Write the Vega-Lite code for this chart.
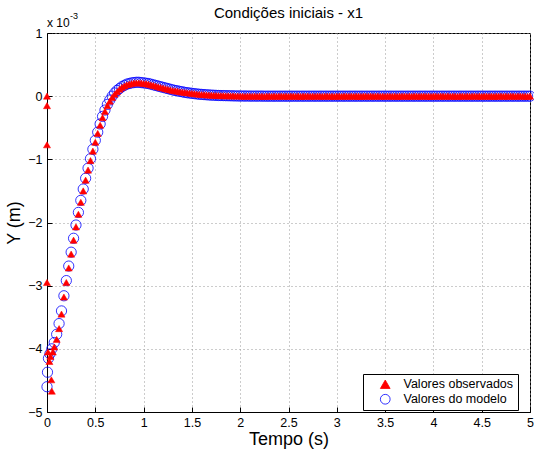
{
  "$schema": "https://vega.github.io/schema/vega-lite/v6.json",
  "width": 483,
  "height": 379,
  "autosize": "none",
  "padding": {"left": 47, "top": 33, "right": 4, "bottom": 43},
  "background": "white",
  "config": {
    "font": "Liberation Sans",
    "view": {"stroke": "black", "strokeWidth": 1},
    "axis": {
      "domainColor": "black",
      "tickColor": "black",
      "labelColor": "black",
      "labelFontSize": 12.5,
      "titleFontSize": 18,
      "titleFontWeight": "normal",
      "titleColor": "black",
      "gridColor": "#999999",
      "gridDash": [1, 3],
      "gridWidth": 1,
      "tickSize": -5
    }
  },
  "title": {"text": "Condições iniciais - x1", "fontSize": 15, "fontWeight": "normal", "color": "black", "offset": 6, "dy": 15},
  "datasets": {
    "obs": [
      {"t":0,"y":0},{"t":0,"y":-0.15},{"t":0,"y":-0.77},{"t":0,"y":-2.95},
      {"t":0.01,"y":-4.05},{"t":0.025,"y":-4.2},{"t":0.035,"y":-4.12},{"t":0.045,"y":-4.49},{"t":0.05,"y":-4.67},
      {"t":0.06,"y":-4.05},{"t":0.075,"y":-3.97},{"t":0.1,"y":-3.85},{"t":0.125,"y":-3.68},{"t":0.15,"y":-3.45},
      {"t":0.175,"y":-3.18},{"t":0.2,"y":-2.95},{"t":0.225,"y":-2.72},{"t":0.25,"y":-2.5},{"t":0.275,"y":-2.28},
      {"t":0.3,"y":-2.07},{"t":0.325,"y":-1.87},{"t":0.35,"y":-1.68},{"t":0.375,"y":-1.5},{"t":0.4,"y":-1.33},
      {"t":0.425,"y":-1.17},{"t":0.45,"y":-1.02},{"t":0.475,"y":-0.87},{"t":0.5,"y":-0.73},{"t":0.525,"y":-0.59},
      {"t":0.55,"y":-0.46},{"t":0.575,"y":-0.34},{"t":0.6,"y":-0.24},{"t":0.625,"y":-0.15},{"t":0.65,"y":-0.08},
      {"t":0.675,"y":-0.02},{"t":0.7,"y":0.03},{"t":0.725,"y":0.07},{"t":0.75,"y":0.11},{"t":0.775,"y":0.14},
      {"t":0.8,"y":0.16},{"t":0.825,"y":0.18},{"t":0.85,"y":0.19},{"t":0.875,"y":0.2},{"t":0.9,"y":0.21},
      {"t":0.925,"y":0.21},{"t":0.95,"y":0.21},{"t":0.975,"y":0.21},{"t":1.0,"y":0.2},{"t":1.025,"y":0.2},
      {"t":1.05,"y":0.19},{"t":1.075,"y":0.18},{"t":1.1,"y":0.17},{"t":1.125,"y":0.16},{"t":1.15,"y":0.15},
      {"t":1.175,"y":0.14},{"t":1.2,"y":0.13},{"t":1.225,"y":0.12},{"t":1.25,"y":0.11},{"t":1.275,"y":0.1},
      {"t":1.3,"y":0.09},{"t":1.325,"y":0.085},{"t":1.35,"y":0.08},{"t":1.375,"y":0.07},{"t":1.4,"y":0.065},
      {"t":1.425,"y":0.06},{"t":1.45,"y":0.055},{"t":1.475,"y":0.05},{"t":1.5,"y":0.045},{"t":1.525,"y":0.04},
      {"t":1.55,"y":0.035},{"t":1.575,"y":0.03},{"t":1.6,"y":0.027},{"t":1.625,"y":0.024},{"t":1.65,"y":0.021},
      {"t":1.675,"y":0.018},{"t":1.7,"y":0.016},{"t":1.725,"y":0.014},{"t":1.75,"y":0.012},{"t":1.775,"y":0.01},
      {"t":1.8,"y":0.009},{"t":1.825,"y":0.008},{"t":1.85,"y":0.007},{"t":1.875,"y":0.006},{"t":1.9,"y":0.005},
      {"t":1.925,"y":0.004},{"t":1.95,"y":0.003},{"t":1.975,"y":0.002},{"t":2.0,"y":0.002},
      {"t":2.025,"y":0.001},{"t":2.05,"y":-0.002},{"t":2.075,"y":0.002},{"t":2.1,"y":0},{"t":2.125,"y":-0.001},
      {"t":2.15,"y":0.003},{"t":2.175,"y":-0.002},{"t":2.2,"y":0.001},{"t":2.225,"y":0},{"t":2.25,"y":-0.003},
      {"t":2.275,"y":0.002},{"t":2.3,"y":0.001},{"t":2.325,"y":-0.001},{"t":2.35,"y":0.002},{"t":2.375,"y":-0.002},
      {"t":2.4,"y":0},{"t":2.425,"y":0.003},{"t":2.45,"y":-0.001},{"t":2.475,"y":0.001},{"t":2.5,"y":-0.002},
      {"t":2.525,"y":0.002},{"t":2.55,"y":0},{"t":2.575,"y":-0.001},{"t":2.6,"y":0.002},{"t":2.625,"y":-0.003},
      {"t":2.65,"y":0.001},{"t":2.675,"y":0},{"t":2.7,"y":0.002},{"t":2.725,"y":-0.002},{"t":2.75,"y":0.001},
      {"t":2.775,"y":-0.001},{"t":2.8,"y":0.003},{"t":2.825,"y":0},{"t":2.85,"y":-0.002},{"t":2.875,"y":0.001},
      {"t":2.9,"y":0.002},{"t":2.925,"y":-0.001},{"t":2.95,"y":0},{"t":2.975,"y":-0.003},{"t":3.0,"y":0.002},
      {"t":3.025,"y":0.001},{"t":3.05,"y":-0.002},{"t":3.075,"y":0.002},{"t":3.1,"y":0},{"t":3.125,"y":-0.001},
      {"t":3.15,"y":0.003},{"t":3.175,"y":-0.002},{"t":3.2,"y":0.001},{"t":3.225,"y":0},{"t":3.25,"y":-0.003},
      {"t":3.275,"y":0.002},{"t":3.3,"y":0.001},{"t":3.325,"y":-0.001},{"t":3.35,"y":0.002},{"t":3.375,"y":-0.002},
      {"t":3.4,"y":0},{"t":3.425,"y":0.003},{"t":3.45,"y":-0.001},{"t":3.475,"y":0.001},{"t":3.5,"y":-0.002},
      {"t":3.525,"y":0.002},{"t":3.55,"y":0},{"t":3.575,"y":-0.001},{"t":3.6,"y":0.002},{"t":3.625,"y":-0.003},
      {"t":3.65,"y":0.001},{"t":3.675,"y":0},{"t":3.7,"y":0.002},{"t":3.725,"y":-0.002},{"t":3.75,"y":0.001},
      {"t":3.775,"y":-0.001},{"t":3.8,"y":0.003},{"t":3.825,"y":0},{"t":3.85,"y":-0.002},{"t":3.875,"y":0.001},
      {"t":3.9,"y":0.002},{"t":3.925,"y":-0.001},{"t":3.95,"y":0},{"t":3.975,"y":-0.003},{"t":4.0,"y":0.002},
      {"t":4.025,"y":0.001},{"t":4.05,"y":-0.002},{"t":4.075,"y":0.002},{"t":4.1,"y":0},{"t":4.125,"y":-0.001},
      {"t":4.15,"y":0.003},{"t":4.175,"y":-0.002},{"t":4.2,"y":0.001},{"t":4.225,"y":0},{"t":4.25,"y":-0.003},
      {"t":4.275,"y":0.002},{"t":4.3,"y":0.001},{"t":4.325,"y":-0.001},{"t":4.35,"y":0.002},{"t":4.375,"y":-0.002},
      {"t":4.4,"y":0},{"t":4.425,"y":0.003},{"t":4.45,"y":-0.001},{"t":4.475,"y":0.001},{"t":4.5,"y":-0.002},
      {"t":4.525,"y":0.002},{"t":4.55,"y":0},{"t":4.575,"y":-0.001},{"t":4.6,"y":0.002},{"t":4.625,"y":-0.003},
      {"t":4.65,"y":0.001},{"t":4.675,"y":0},{"t":4.7,"y":0.002},{"t":4.725,"y":-0.002},{"t":4.75,"y":0.001},
      {"t":4.775,"y":-0.001},{"t":4.8,"y":0.003},{"t":4.825,"y":0},{"t":4.85,"y":-0.002},{"t":4.875,"y":0.001},
      {"t":4.9,"y":0.002},{"t":4.925,"y":-0.001},{"t":4.95,"y":0},{"t":4.975,"y":-0.003},{"t":5.0,"y":0.001}
    ],
    "mod": [
      {"t":0,"y":-4.6},{"t":0.005,"y":-4.37},{"t":0.015,"y":-4.15},{"t":0.03,"y":-4.08},{"t":0.05,"y":-4.0},
      {"t":0.075,"y":-3.9},{"t":0.1,"y":-3.77},{"t":0.125,"y":-3.6},{"t":0.15,"y":-3.4},{"t":0.175,"y":-3.16},
      {"t":0.2,"y":-2.92},{"t":0.225,"y":-2.69},{"t":0.25,"y":-2.47},{"t":0.275,"y":-2.25},{"t":0.3,"y":-2.04},
      {"t":0.325,"y":-1.84},{"t":0.35,"y":-1.65},{"t":0.375,"y":-1.47},{"t":0.4,"y":-1.3},{"t":0.425,"y":-1.14},
      {"t":0.45,"y":-0.99},{"t":0.475,"y":-0.84},{"t":0.5,"y":-0.7},{"t":0.525,"y":-0.57},{"t":0.55,"y":-0.44},
      {"t":0.575,"y":-0.32},{"t":0.6,"y":-0.22},{"t":0.625,"y":-0.13},{"t":0.65,"y":-0.06},{"t":0.675,"y":0},
      {"t":0.7,"y":0.05},{"t":0.725,"y":0.09},{"t":0.75,"y":0.12},{"t":0.775,"y":0.15},{"t":0.8,"y":0.17},
      {"t":0.825,"y":0.19},{"t":0.85,"y":0.2},{"t":0.875,"y":0.21},{"t":0.9,"y":0.215},{"t":0.925,"y":0.22},
      {"t":0.95,"y":0.22},{"t":0.975,"y":0.215},{"t":1.0,"y":0.21},{"t":1.025,"y":0.205},{"t":1.05,"y":0.2},
      {"t":1.075,"y":0.19},{"t":1.1,"y":0.18},{"t":1.125,"y":0.17},{"t":1.15,"y":0.16},{"t":1.175,"y":0.15},
      {"t":1.2,"y":0.14},{"t":1.225,"y":0.13},{"t":1.25,"y":0.12},{"t":1.275,"y":0.11},{"t":1.3,"y":0.1},
      {"t":1.325,"y":0.09},{"t":1.35,"y":0.085},{"t":1.375,"y":0.075},{"t":1.4,"y":0.07},{"t":1.425,"y":0.06},
      {"t":1.45,"y":0.055},{"t":1.475,"y":0.05},{"t":1.5,"y":0.045},{"t":1.525,"y":0.04},{"t":1.55,"y":0.035},
      {"t":1.575,"y":0.031},{"t":1.6,"y":0.028},{"t":1.625,"y":0.025},{"t":1.65,"y":0.022},{"t":1.675,"y":0.019},
      {"t":1.7,"y":0.017},{"t":1.725,"y":0.015},{"t":1.75,"y":0.013},{"t":1.775,"y":0.011},{"t":1.8,"y":0.01},
      {"t":1.825,"y":0.009},{"t":1.85,"y":0.008},{"t":1.875,"y":0.007},{"t":1.9,"y":0.006},{"t":1.925,"y":0.005},
      {"t":1.95,"y":0.004},{"t":1.975,"y":0.003},{"t":2.0,"y":0.003},
      {"t":2.025,"y":0.002},{"t":2.05,"y":0.002},{"t":2.075,"y":0.002},{"t":2.1,"y":0.001},{"t":2.125,"y":0.001},
      {"t":2.15,"y":0.001},{"t":2.175,"y":0.001},{"t":2.2,"y":0.001},{"t":2.225,"y":0.001},{"t":2.25,"y":0},
      {"t":2.275,"y":0},{"t":2.3,"y":0},{"t":2.325,"y":0},{"t":2.35,"y":0},{"t":2.375,"y":0},
      {"t":2.4,"y":0},{"t":2.425,"y":0},{"t":2.45,"y":0},{"t":2.475,"y":0},{"t":2.5,"y":0},
      {"t":2.525,"y":0},{"t":2.55,"y":0},{"t":2.575,"y":0},{"t":2.6,"y":0},{"t":2.625,"y":0},
      {"t":2.65,"y":0},{"t":2.675,"y":0},{"t":2.7,"y":0},{"t":2.725,"y":0},{"t":2.75,"y":0},
      {"t":2.775,"y":0},{"t":2.8,"y":0},{"t":2.825,"y":0},{"t":2.85,"y":0},{"t":2.875,"y":0},
      {"t":2.9,"y":0},{"t":2.925,"y":0},{"t":2.95,"y":0},{"t":2.975,"y":0},{"t":3.0,"y":0},
      {"t":3.025,"y":0},{"t":3.05,"y":0},{"t":3.075,"y":0},{"t":3.1,"y":0},{"t":3.125,"y":0},
      {"t":3.15,"y":0},{"t":3.175,"y":0},{"t":3.2,"y":0},{"t":3.225,"y":0},{"t":3.25,"y":0},
      {"t":3.275,"y":0},{"t":3.3,"y":0},{"t":3.325,"y":0},{"t":3.35,"y":0},{"t":3.375,"y":0},
      {"t":3.4,"y":0},{"t":3.425,"y":0},{"t":3.45,"y":0},{"t":3.475,"y":0},{"t":3.5,"y":0},
      {"t":3.525,"y":0},{"t":3.55,"y":0},{"t":3.575,"y":0},{"t":3.6,"y":0},{"t":3.625,"y":0},
      {"t":3.65,"y":0},{"t":3.675,"y":0},{"t":3.7,"y":0},{"t":3.725,"y":0},{"t":3.75,"y":0},
      {"t":3.775,"y":0},{"t":3.8,"y":0},{"t":3.825,"y":0},{"t":3.85,"y":0},{"t":3.875,"y":0},
      {"t":3.9,"y":0},{"t":3.925,"y":0},{"t":3.95,"y":0},{"t":3.975,"y":0},{"t":4.0,"y":0},
      {"t":4.025,"y":0},{"t":4.05,"y":0},{"t":4.075,"y":0},{"t":4.1,"y":0},{"t":4.125,"y":0},
      {"t":4.15,"y":0},{"t":4.175,"y":0},{"t":4.2,"y":0},{"t":4.225,"y":0},{"t":4.25,"y":0},
      {"t":4.275,"y":0},{"t":4.3,"y":0},{"t":4.325,"y":0},{"t":4.35,"y":0},{"t":4.375,"y":0},
      {"t":4.4,"y":0},{"t":4.425,"y":0},{"t":4.45,"y":0},{"t":4.475,"y":0},{"t":4.5,"y":0},
      {"t":4.525,"y":0},{"t":4.55,"y":0},{"t":4.575,"y":0},{"t":4.6,"y":0},{"t":4.625,"y":0},
      {"t":4.65,"y":0},{"t":4.675,"y":0},{"t":4.7,"y":0},{"t":4.725,"y":0},{"t":4.75,"y":0},
      {"t":4.775,"y":0},{"t":4.8,"y":0},{"t":4.825,"y":0},{"t":4.85,"y":0},{"t":4.875,"y":0},
      {"t":4.9,"y":0},{"t":4.925,"y":0},{"t":4.95,"y":0},{"t":4.975,"y":0},{"t":5.0,"y":0}
    ],
    "exp": [{"t": 0, "y": 1}]
  },
  "encoding": {
    "x": {
      "field": "t", "type": "quantitative",
      "scale": {"domain": [0, 5], "nice": false, "zero": false},
      "axis": {"values": [0, 0.5, 1, 1.5, 2, 2.5, 3, 3.5, 4, 4.5, 5], "format": "~g", "title": "Tempo (s)", "labelPadding": 9, "titlePadding": 2, "labelFlush": false}
    },
    "y": {
      "field": "y", "type": "quantitative",
      "scale": {"domain": [-5, 1], "nice": false, "zero": false},
      "axis": {"values": [-5, -4, -3, -2, -1, 0, 1], "format": "d", "title": "Y (m)", "labelPadding": 10, "titlePadding": 4}
    }
  },
  "layer": [
    {
      "data": {"name": "mod"},
      "mark": {"type": "point", "size": 105, "strokeWidth": 0.8, "opacity": 1},
      "encoding": {
        "shape": {"datum": "Valores do modelo", "scale": {"domain": ["Valores observados", "Valores do modelo"], "range": ["triangle-up", "circle"]},
          "legend": {"title": null, "orient": "none", "legendX": 316, "legendY": 341, "fillColor": "white", "strokeColor": "black", "padding": 4, "labelFontSize": 12.5, "labelColor": "black", "symbolSize": 95, "symbolStrokeWidth": 0.8, "symbolOffset": 12, "labelOffset": 12, "rowPadding": 1, "cornerRadius": 0}},
        "fill": {"datum": "Valores do modelo", "scale": {"domain": ["Valores observados", "Valores do modelo"], "range": ["#ff0000", "transparent"]},
          "legend": {"title": null, "orient": "none", "legendX": 316, "legendY": 341, "fillColor": "white", "strokeColor": "black", "padding": 4, "labelFontSize": 12.5, "labelColor": "black", "symbolSize": 95, "symbolStrokeWidth": 0.8, "symbolOffset": 12, "labelOffset": 12, "rowPadding": 1, "cornerRadius": 0}},
        "stroke": {"datum": "Valores do modelo", "scale": {"domain": ["Valores observados", "Valores do modelo"], "range": ["#ff0000", "#0000ff"]},
          "legend": {"title": null, "orient": "none", "legendX": 316, "legendY": 341, "fillColor": "white", "strokeColor": "black", "padding": 4, "labelFontSize": 12.5, "labelColor": "black", "symbolSize": 95, "symbolStrokeWidth": 0.8, "symbolOffset": 12, "labelOffset": 12, "rowPadding": 1, "cornerRadius": 0}}
      }
    },
    {
      "data": {"name": "obs"},
      "mark": {"type": "point", "size": 50, "strokeWidth": 0.5, "opacity": 1},
      "encoding": {
        "shape": {"datum": "Valores observados"},
        "fill": {"datum": "Valores observados"},
        "stroke": {"datum": "Valores observados"}
      }
    },
    {
      "data": {"name": "exp"},
      "mark": {"type": "text", "align": "left", "baseline": "alphabetic", "fontSize": 12, "dx": 0, "dy": -6, "color": "black"},
      "encoding": {"text": {"value": "x 10"}}
    },
    {
      "data": {"name": "exp"},
      "mark": {"type": "text", "align": "left", "baseline": "alphabetic", "fontSize": 9, "dx": 23, "dy": -14, "color": "black"},
      "encoding": {"text": {"value": "-3"}}
    }
  ],
  "resolve": {"scale": {"shape": "shared", "fill": "shared", "stroke": "shared"}}
}
